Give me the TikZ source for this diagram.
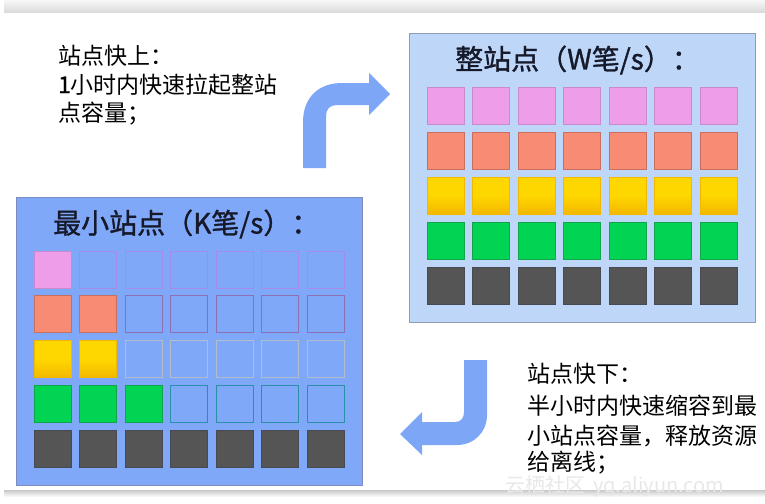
\documentclass[tikz,border=0pt]{standalone}
\usepackage{fontspec}
\setmainfont{Noto Sans CJK SC}
\newfontfamily\cjk{Noto Sans CJK SC}
\newfontfamily\cjktitle[FakeBold=1.2]{Noto Sans CJK SC}
\definecolor{lightbox}{HTML}{BED7F8}
\definecolor{lightboxd}{HTML}{8E9DB4}
\definecolor{midbox}{HTML}{80A8F8}
\definecolor{midboxd}{HTML}{7D8CC0}
\definecolor{arrowblue}{HTML}{7DA6F7}
\definecolor{pinkc}{HTML}{EE9DE8}
\definecolor{pinkd}{HTML}{C98AD0}
\definecolor{salmonc}{HTML}{F88B73}
\definecolor{salmond}{HTML}{C86F60}
\definecolor{yellc}{HTML}{FFD700}
\definecolor{yelld}{HTML}{F2B800}
\definecolor{greenc}{HTML}{00D452}
\definecolor{greend}{HTML}{12A448}
\definecolor{darkc}{HTML}{555555}
\definecolor{darkd}{HTML}{474A52}
\definecolor{emptyA}{HTML}{A68CEA}
\definecolor{emptyB}{HTML}{8D70B4}
\definecolor{emptyC}{HTML}{B3BCCB}
\definecolor{emptyD}{HTML}{2B8FA6}
\definecolor{titleink}{HTML}{15192A}
\begin{document}
\begin{tikzpicture}[x=1pt,y=-1pt,
  cell/.style={minimum size=37pt, inner sep=0pt, line width=0.8pt},
  pinkcell/.style={fill=pinkc, draw=pinkd},
  salmoncell/.style={fill=salmonc, draw=salmond},
  yellowcell/.style={top color=yellc, bottom color=yelld, middle color=yellc, draw=yelld},
  greencell/.style={fill=greenc, draw=greend},
  darkcell/.style={fill=darkc, draw=darkd},
  emptyacell/.style={fill=midbox, draw=emptyA},
  emptybcell/.style={fill=midbox, draw=emptyB},
  emptyccell/.style={fill=midbox, draw=emptyC},
  emptydcell/.style={fill=midbox, draw=emptyD},
  panel/.style={inner sep=0pt, anchor=north west, line width=0.8pt},
  titletext/.style={anchor=base west, inner sep=0pt, font=\cjktitle\fontsize{28}{32}\selectfont, text=titleink},
  notetext/.style={anchor=base west, inner sep=0pt, font=\cjk\fontsize{23}{28}\selectfont, text=black},
  bigarrow/.style={fill=arrowblue}
]
\useasboundingbox (0,0) rectangle (765,503);
\fill[white] (0,0) rectangle (765,503);
% screenshot bands
\shade[top color=gray!6, bottom color=gray!30] (4,0) rectangle (765,13);
\shade[top color=gray!40, bottom color=white] (4,490.5) rectangle (765,497);

% right panel: full site
\node[panel, fill=lightbox, draw=lightboxd, minimum width=346pt, minimum height=289pt] (full) at (409,33) {};
\node[titletext] (fulltitle) at (455,69.5) {整站点（W笔/s）：};
\foreach \r/\st in {0/pinkcell,1/salmoncell,2/yellowcell,3/greencell,4/darkcell}{
  \foreach \c in {0,...,6}{
    \node[cell,\st] (F\r\c) at ({445.5+45.5*\c},{105.5+45*\r}) {};
  }
}

% left panel: minimal site
\node[panel, fill=midbox, draw=midboxd, minimum width=346pt, minimum height=288pt] (mini) at (16,197) {};
\node[titletext] (minititle) at (53,233.5) {最小站点（K笔/s）：};
\foreach \r/\n/\st/\es in {0/1/pinkcell/emptyacell,1/2/salmoncell/emptybcell,2/2/yellowcell/emptyccell,3/3/greencell/emptydcell,4/7/darkcell/emptydcell}{
  \foreach \c in {0,...,6}{
    \ifnum\c<\n
      \node[cell,\st] (M\r\c) at ({52.5+45.5*\c},{269.5+44.8*\r}) {};
    \else
      \node[cell,\es] (M\r\c) at ({52.5+45.5*\c},{269.5+44.8*\r}) {};
    \fi
  }
}

% notes
\node[notetext] (up1) at (58,64.5) {站点快上：};
\node[notetext] (up2) at (58,93) {{\cjktitle 1}小时内快速拉起整站};
\node[notetext] (up3) at (58,121.5) {点容量；};
\node[notetext] (dn1) at (527,382.5) {站点快下：};
\node[notetext] (dn2) at (527,414) {半小时内快速缩容到最};
\node[notetext] (dn3) at (527,444) {小站点容量，释放资源};
\node[notetext] (dn4) at (527,470) {给离线；};

% arrows
\fill[bigarrow] (303,168) -- (303,122) .. controls (303,98) and (318,83) .. (342,83)
  -- (369,83) -- (369,73) -- (390,94) -- (369,115) -- (369,105) -- (337,105)
  .. controls (330,105) and (326,109) .. (326,116) -- (326,168) -- cycle;
\fill[bigarrow] (464,360) -- (487,360) -- (487,415) .. controls (487,432) and (474,445) .. (457,445)
  -- (422,445) -- (422,455) -- (400,434) -- (422,412) -- (422,422) -- (455,422)
  .. controls (461,422) and (464,418) .. (464,412) -- cycle;

% watermark
\node[anchor=base west, inner sep=0pt, font=\cjk\fontsize{20}{24}\selectfont, text=gray!18] (wm) at (505,492) {云栖社区\, yq.aliyun.com};
\end{tikzpicture}
\end{document}
